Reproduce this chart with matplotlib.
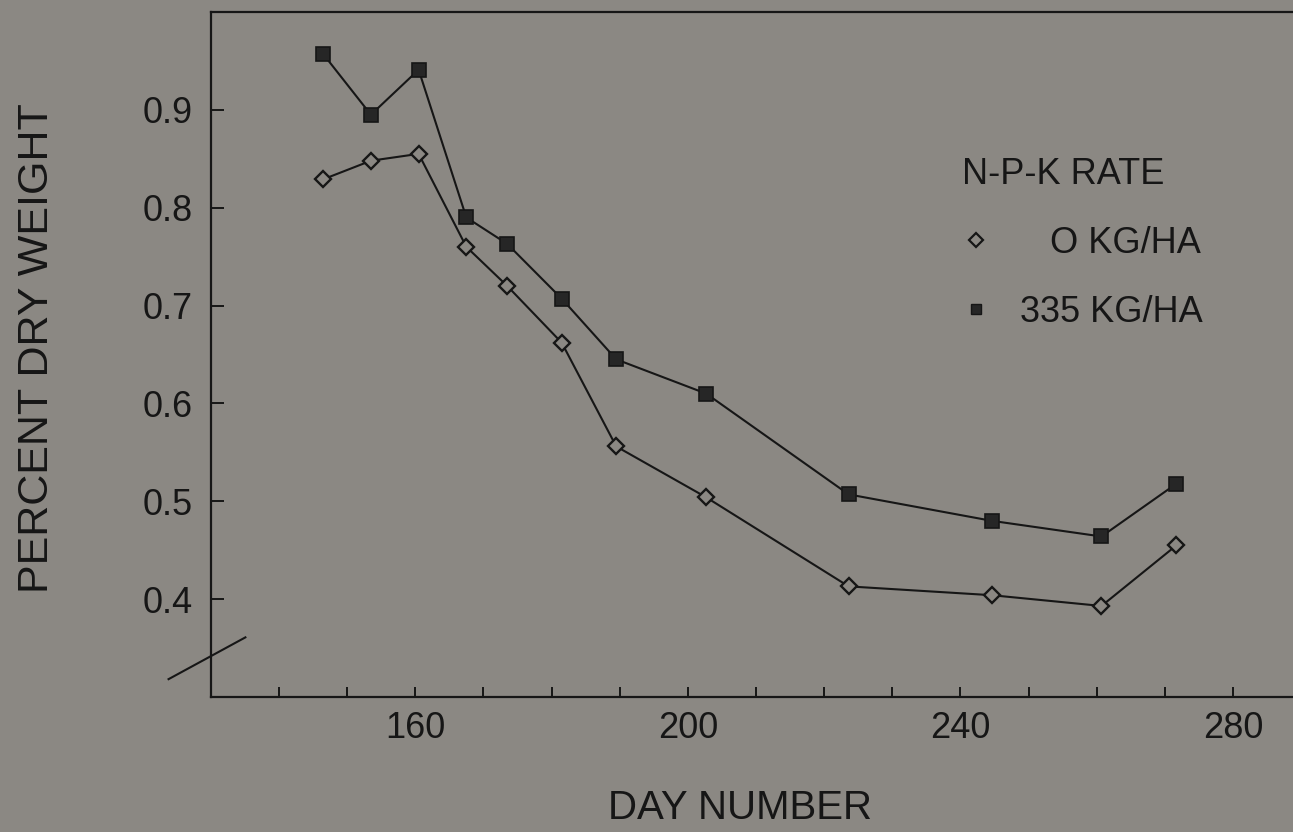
import matplotlib
matplotlib.use("Agg")
import matplotlib.pyplot as plt
import matplotlib.lines as mlines
from matplotlib.ticker import MultipleLocator, FixedLocator

# Data
day = [146.5, 153.5, 160.5, 167.5, 173.5, 181.5, 189.5, 202.7, 223.6, 244.6, 260.7, 271.7]
rate_0 = [0.829, 0.848, 0.855, 0.760, 0.720, 0.662, 0.556, 0.504, 0.413, 0.404, 0.393, 0.455]
rate_335 = [0.957, 0.895, 0.941, 0.790, 0.763, 0.707, 0.645, 0.610, 0.507, 0.480, 0.464, 0.518]

labels = ["   O KG/HA", "335 KG/HA"]
x_ticks = [160, 200, 240, 280]
y_ticks = [0.4, 0.5, 0.6, 0.7, 0.8, 0.9]

bg = "#8b8883"
ink = "#161616"

plt.rcParams["font.family"] = ["Liberation Sans", "DejaVu Sans"]

fig = plt.figure(figsize=(12.93, 8.32), dpi=100, facecolor=bg)
ax = fig.add_axes([0.163, 0.1623, 0.837, 0.8233], facecolor=bg)

ax.plot(day, rate_0, color=ink, lw=1.5, marker="D", ms=8,
        mfc=bg, mec=ink, mew=1.7, zorder=3)
ax.plot(day, rate_335, color=ink, lw=1.5, marker="s", ms=10,
        mfc="#262626", mec=ink, mew=1.2, zorder=3)

ax.set_xlim(130, 288.8)
ax.set_ylim(0.3, 1.0)

ax.xaxis.set_major_locator(FixedLocator(x_ticks))
ax.xaxis.set_minor_locator(MultipleLocator(10))
ax.yaxis.set_major_locator(FixedLocator(y_ticks))
ax.set_yticklabels([f"{v:.1f}" for v in y_ticks])

ax.tick_params(axis="x", which="both", direction="in", length=7.5, width=1.4,
               colors=ink, labelsize=26, pad=10)
ax.tick_params(axis="y", which="major", direction="in", length=9.5, width=1.4,
               colors=ink, labelsize=26, pad=13)

for side in ["left", "bottom", "top"]:
    ax.spines[side].set_linewidth(1.6)
    ax.spines[side].set_color(ink)
ax.spines["right"].set_visible(False)

ax.set_ylabel("PERCENT DRY WEIGHT", fontsize=31, color=ink)
ax.yaxis.set_label_coords(-0.142, 0.51)
ax.set_xlabel("DAY NUMBER", fontsize=29, color=ink)
ax.xaxis.set_label_coords(0.489, -0.135)

# axis break mark on the y axis
brk = mlines.Line2D([-0.039, 0.032], [0.026, 0.087], transform=ax.transAxes,
                    color=ink, lw=1.5, clip_on=False)
ax.add_line(brk)

h0 = mlines.Line2D([], [], ls="none", marker="D", ms=7, mfc=bg, mec=ink, mew=1.6)
h1 = mlines.Line2D([], [], ls="none", marker="s", ms=7.5, mfc="#262626", mec=ink)
leg = ax.legend([h0, h1], labels, title="N-P-K RATE", loc="upper left",
                bbox_to_anchor=(0.694, 0.789), frameon=False, fontsize=26,
                title_fontsize=26, alignment="left", handlelength=0.8,
                handletextpad=0.8, labelspacing=0.95, borderpad=0,
                borderaxespad=0)
for t in leg.get_texts():
    t.set_color(ink)
leg.get_title().set_color(ink)

fig.savefig("out.png", dpi=100, facecolor=bg)
